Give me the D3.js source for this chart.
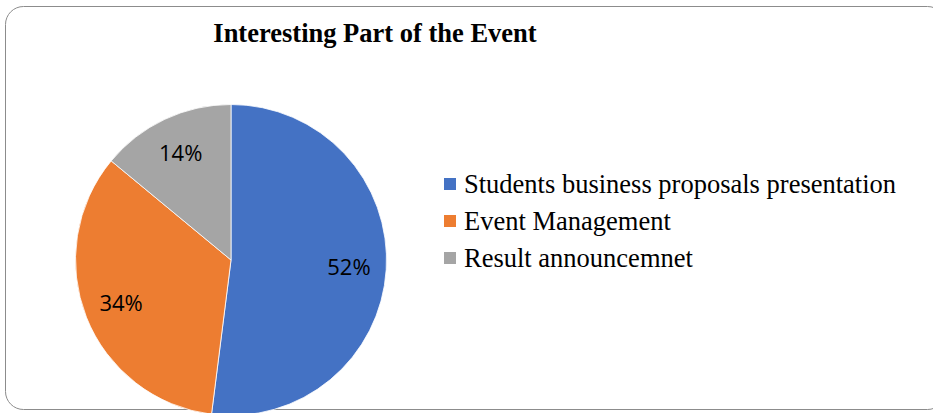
<!DOCTYPE html>
<html>
<head>
<meta charset="utf-8">
<script src="https://cdn.jsdelivr.net/npm/d3@7"></script>
<style>
  body { margin: 0; background: #fff; }
</style>
</head>
<body>
<script>
// data
var categories = ["Students business proposals presentation", "Event Management", "Result announcemnet"];
var values = [52, 34, 14];
var colors = ["#4472C4", "#ED7D31", "#A5A5A5"];

var width = 933, height = 413;

var svg = d3.select("body").append("svg")
  .attr("width", width)
  .attr("height", height);

// chart frame
svg.append("rect")
  .attr("x", 5.5).attr("y", 6.5)
  .attr("width", 940).attr("height", 403)
  .attr("rx", 18).attr("ry", 18)
  .attr("fill", "#fff")
  .attr("stroke", "#8c8c8c")
  .attr("stroke-width", 1);

// title
svg.append("text")
  .attr("x", 375).attr("y", 42)
  .attr("text-anchor", "middle")
  .attr("font-family", "Liberation Serif, Times New Roman, serif")
  .attr("font-weight", "bold")
  .attr("font-size", 26.5)
  .attr("fill", "#000")
  .text("Interesting Part of the Event");

var cx = 231, cy = 260, r = 155.5;

var pie = d3.pie().sort(null).value(function(d) { return d; });
var arc = d3.arc().innerRadius(0).outerRadius(r);
var labelArc = d3.arc().innerRadius(r * 0.76).outerRadius(r * 0.76);

var g = svg.append("g").attr("transform", "translate(" + cx + "," + cy + ")");

var arcs = pie(values);

g.selectAll("path")
  .data(arcs)
  .enter().append("path")
  .attr("d", arc)
  .attr("fill", function(d, i) { return colors[i]; })
  .attr("stroke", "#fff")
  .attr("stroke-width", 0.8);

g.selectAll("text.lbl")
  .data(arcs)
  .enter().append("text")
  .attr("class", "lbl")
  .attr("transform", function(d) { return "translate(" + labelArc.centroid(d) + ")"; })
  .attr("text-anchor", "middle")
  .attr("dy", "0.35em")
  .attr("font-family", "Open Sans, Carlito, sans-serif")
  .attr("font-size", 22)
  .attr("fill", "#000")
  .text(function(d) { return d.value + "%"; });

// legend
var legend = svg.append("g").attr("transform", "translate(444,184)");
var rowH = 37;
var items = legend.selectAll("g")
  .data(categories)
  .enter().append("g")
  .attr("transform", function(d, i) { return "translate(0," + (i * rowH) + ")"; });

items.append("rect")
  .attr("x", 0).attr("y", -6)
  .attr("width", 12).attr("height", 12)
  .attr("fill", function(d, i) { return colors[i]; });

items.append("text")
  .attr("x", 20).attr("y", 0)
  .attr("dy", "0.33em")
  .attr("font-family", "Liberation Serif, Times New Roman, serif")
  .attr("font-size", 26.5)
  .attr("fill", "#000")
  .text(function(d) { return d; });
</script>
</body>
</html>
